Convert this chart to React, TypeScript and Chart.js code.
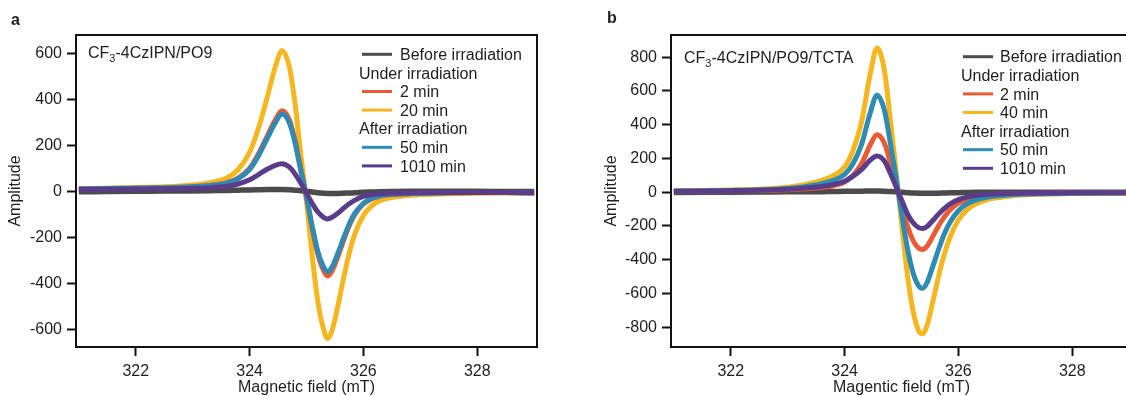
import React, { useEffect, useRef } from "react";
import { Chart, registerables } from "chart.js";

Chart.register(...registerables);

// ---------- data ----------
const FIELD_MT = [
  321.0, 321.5, 322.0, 322.5, 323.0, 323.3, 323.6, 323.8, 324.0, 324.15, 324.3, 324.45,
  324.57, 324.7, 324.8, 324.9, 325.0, 325.1, 325.2, 325.3, 325.37, 325.45, 325.55, 325.65,
  325.75, 325.85, 326.0, 326.15, 326.3, 326.5, 326.75, 327.0, 327.5, 328.0, 328.5, 329.0,
];

// Panel a: CF3-4CzIPN/PO9
const A_BEFORE = [-2, -1, 0, 1, 2, 3, 4, 5, 6, 7, 8, 8, 8, 7, 5, 3, 0, -3, -6, -8, -9, -9, -9, -8, -7, -6, -4, -3, -2, -1, 0, 0, 0, 0, -1, -1];
const A_2MIN = [10, 12, 14, 16, 20, 26, 38, 58, 100, 160, 235, 310, 350, 310, 220, 95, -25, -160, -275, -345, -368, -345, -285, -215, -150, -100, -55, -32, -20, -14, -10, -8, -6, -5, -5, -6];
const A_20MIN = [12, 14, 17, 20, 28, 38, 58, 95, 170, 270, 400, 540, 612, 540, 380, 160, -45, -280, -480, -600, -640, -605, -500, -380, -270, -185, -105, -62, -40, -27, -18, -14, -10, -8, -7, -8];
const A_50MIN = [10, 12, 14, 16, 20, 25, 36, 55, 95, 152, 225, 297, 336, 297, 210, 90, -24, -152, -262, -328, -350, -328, -270, -204, -142, -95, -52, -30, -19, -13, -10, -8, -6, -5, -5, -6];
const A_1010MIN = [8, 9, 10, 11, 13, 16, 22, 32, 50, 72, 95, 113, 120, 105, 75, 35, -8, -52, -90, -113, -120, -112, -95, -74, -54, -38, -22, -14, -10, -8, -7, -6, -5, -5, -5, -6];

// Panel b: CF3-4CzIPN/PO9/TCTA
const B_BEFORE = [-2, -1, 0, 1, 2, 2, 3, 4, 5, 6, 6, 7, 7, 6, 4, 2, -1, -3, -5, -6, -7, -7, -7, -6, -5, -4, -3, -2, -1, -1, 0, 0, 0, 0, -1, -1];
const B_2MIN = [5, 6, 8, 10, 15, 20, 28, 38, 60, 100, 170, 280, 340, 290, 180, 57, -72, -195, -285, -332, -340, -320, -262, -200, -148, -105, -65, -42, -28, -18, -12, -9, -6, -5, -4, -4];
const B_40MIN = [8, 10, 13, 18, 30, 45, 70, 98, 150, 250, 420, 700, 855, 720, 440, 140, -180, -480, -700, -820, -840, -790, -650, -500, -370, -270, -165, -105, -70, -45, -30, -20, -12, -8, -6, -6];
const B_50MIN = [6, 8, 10, 14, 22, 33, 50, 70, 105, 170, 285, 470, 575, 485, 300, 95, -120, -325, -475, -555, -570, -535, -440, -340, -250, -180, -110, -70, -47, -30, -20, -14, -9, -6, -5, -5];
const B_1010MIN = [5, 6, 8, 11, 17, 24, 34, 45, 65, 95, 135, 190, 215, 185, 115, 36, -45, -125, -180, -210, -215, -203, -168, -130, -97, -70, -44, -29, -20, -13, -9, -7, -5, -4, -4, -4];

const X_TICKS = [322, 324, 326, 328];
const A_Y_TICKS = [-600, -400, -200, 0, 200, 400, 600];
const B_Y_TICKS = [-800, -600, -400, -200, 0, 200, 400, 600, 800];

const A_LEGEND = ["Before irradiation", "Under irradiation", "2 min", "20 min", "After irradiation", "50 min", "1010 min"];
const B_LEGEND = ["Before irradiation", "Under irradiation", "2 min", "40 min", "After irradiation", "50 min", "1010 min"];

// ---------- styles ----------
const FONT = '"Liberation Sans", Arial, Helvetica, sans-serif';
const C_GRAY = "#4b4b4b";
const C_RED = "#ec5a34";
const C_YELLOW = "#f6b71e";
const C_BLUE = "#2e8bb3";
const C_PURPLE = "#5a3c8a";
const TEXT = "#1e1e1e";
const LEGEND_COLORS = [C_GRAY, null, C_RED, C_YELLOW, null, C_BLUE, C_PURPLE];

type PanelCfg = {
  letter: string;
  letterX: number;
  letterY: number;
  sampleRest: string;
  sampleX: number;
  sampleY: number;
  legend: string[];
  legendLineX: number;
  legendTextX: number;
  legendHeadX: number;
  legendY0: number;
  legendDy: number;
  series: number[][]; // before, under1, under2, after1, after2
  yMin: number;
  yMax: number;
  yTicks: number[];
  xTitle: string;
  yAxisWidth: number;
  padRight: number;
  yTitlePad: number;
  canvasLeft: number;
};

const PANELS: PanelCfg[] = [
  {
    letter: "a", letterX: 11, letterY: 25,
    sampleRest: "-4CzIPN/PO9", sampleX: 88, sampleY: 58,
    legend: A_LEGEND, legendLineX: 362, legendTextX: 400, legendHeadX: 359, legendY0: 54.3, legendDy: 18.6,
    series: [A_BEFORE, A_2MIN, A_20MIN, A_50MIN, A_1010MIN],
    yMin: -677, yMax: 680, yTicks: A_Y_TICKS,
    xTitle: "Magnetic field (mT)", yAxisWidth: 76, padRight: 23, yTitlePad: 8, canvasLeft: 0,
  },
  {
    letter: "b", letterX: 17, letterY: 23,
    sampleRest: "-4CzIPN/PO9/TCTA", sampleX: 94, sampleY: 63,
    legend: B_LEGEND, legendLineX: 373, legendTextX: 410, legendHeadX: 371, legendY0: 56.7, legendDy: 18.6,
    series: [B_BEFORE, B_2MIN, B_40MIN, B_50MIN, B_1010MIN],
    yMin: -918, yMax: 932, yTicks: B_Y_TICKS,
    xTitle: "Magentic field (mT)", yAxisWidth: 81, padRight: 18, yTitlePad: 14, canvasLeft: 590,
  },
];

function makePlugin(cfg: PanelCfg) {
  return {
    id: "panelDecor",
    afterDatasetsDraw(chart: any) {
      const { ctx, chartArea } = chart;
      const { left, top, right, bottom } = chartArea;
      ctx.save();
      ctx.lineWidth = 2;
      ctx.strokeStyle = "#111";
      ctx.strokeRect(left, top, right - left, bottom - top);
      ctx.restore();
    },
    afterDraw(chart: any) {
      const ctx = chart.ctx as CanvasRenderingContext2D;
      ctx.save();
      ctx.fillStyle = TEXT;
      ctx.textBaseline = "alphabetic";
      ctx.textAlign = "left";
      // panel letter
      ctx.font = `bold 16px ${FONT}`;
      ctx.fillText(cfg.letter, cfg.letterX, cfg.letterY);
      // sample label with subscript
      ctx.font = `16px ${FONT}`;
      let x = cfg.sampleX;
      ctx.fillText("CF", x, cfg.sampleY);
      x += ctx.measureText("CF").width;
      ctx.font = `11px ${FONT}`;
      ctx.fillText("3", x, cfg.sampleY + 4);
      x += ctx.measureText("3").width;
      ctx.font = `16px ${FONT}`;
      ctx.fillText(cfg.sampleRest, x, cfg.sampleY);
      // legend
      cfg.legend.forEach((label, i) => {
        const cy = cfg.legendY0 + i * cfg.legendDy;
        const col = LEGEND_COLORS[i];
        if (col) {
          ctx.strokeStyle = col;
          ctx.lineWidth = 3;
          ctx.beginPath();
          ctx.moveTo(cfg.legendLineX, cy);
          ctx.lineTo(cfg.legendLineX + 30, cy);
          ctx.stroke();
          ctx.fillText(label, cfg.legendTextX, cy + 5.7);
        } else {
          ctx.fillText(label, cfg.legendHeadX, cy + 5.7);
        }
      });
      ctx.restore();
    },
  };
}

function Panel({ cfg }: { cfg: PanelCfg }) {
  const ref = useRef<HTMLCanvasElement>(null);
  useEffect(() => {
    const [before, u1, u2, a1, a2] = cfg.series;
    const mk = (arr: number[], color: string, width: number) => ({
      data: FIELD_MT.map((x, i) => ({ x, y: arr[i] })),
      borderColor: color,
      backgroundColor: color,
      borderWidth: width,
      pointRadius: 0,
      cubicInterpolationMode: "monotone" as const,
      fill: false,
    });
    // dataset 0 is drawn on top
    const datasets = [
      mk(a2, C_PURPLE, 5),
      mk(a1, C_BLUE, 5),
      mk(u1, C_RED, 5),
      mk(u2, C_YELLOW, 5),
      mk(before, C_GRAY, 5.5),
    ];
    const tickFont = { family: FONT, size: 16 };
    const chart = new Chart(ref.current as HTMLCanvasElement, {
      type: "line",
      data: { datasets },
      options: {
        animation: false,
        responsive: false,
        devicePixelRatio: 1,
        events: [],
        layout: { padding: { left: 0, top: 35, right: cfg.padRight, bottom: 0 } },
        plugins: { legend: { display: false }, tooltip: { enabled: false } },
        scales: {
          x: {
            type: "linear",
            min: 320.95,
            max: 329.05,
            afterBuildTicks: (s: any) => {
              s.ticks = X_TICKS.map((v) => ({ value: v }));
            },
            afterFit: (s: any) => {
              s.height = 49;
            },
            grid: {
              display: true,
              drawOnChartArea: false,
              drawTicks: true,
              tickLength: 9,
              tickWidth: 2,
              tickColor: "#111",
              color: "#111",
            },
            border: { display: false },
            ticks: {
              font: tickFont,
              color: TEXT,
              padding: 6,
              maxRotation: 0,
              autoSkip: false,
              callback: (v: any) => String(v),
            },
            title: {
              display: true,
              text: cfg.xTitle,
              font: { family: FONT, size: 16, lineHeight: 1 },
              color: TEXT,
              padding: 0,
            },
          },
          y: {
            type: "linear",
            min: cfg.yMin,
            max: cfg.yMax,
            afterBuildTicks: (s: any) => {
              s.ticks = cfg.yTicks.map((v) => ({ value: v }));
            },
            afterFit: (s: any) => {
              s.width = cfg.yAxisWidth;
            },
            grid: {
              display: true,
              drawOnChartArea: false,
              drawTicks: true,
              tickLength: 9,
              tickWidth: 2,
              tickColor: "#111",
              color: "#111",
            },
            border: { display: false },
            ticks: {
              font: tickFont,
              color: TEXT,
              padding: 5,
              autoSkip: false,
              callback: (v: any) => String(v),
            },
            title: {
              display: true,
              text: "Amplitude",
              font: { family: FONT, size: 16, lineHeight: 1 },
              color: TEXT,
              padding: { top: cfg.yTitlePad, bottom: 0 },
            },
          },
        },
      } as any,
      plugins: [makePlugin(cfg)],
    });
    return () => chart.destroy();
  }, [cfg]);
  return (
    <canvas
      ref={ref}
      width={560}
      height={396}
      style={{ position: "absolute", left: cfg.canvasLeft, top: 0, width: 560, height: 396, display: "block" }}
    />
  );
}

export default function App() {
  return (
    <div
      style={{
        position: "absolute",
        left: 0,
        top: 0,
        width: 1126,
        height: 396,
        overflow: "hidden",
        background: "#ffffff",
      }}
    >
      {PANELS.map((p) => (
        <Panel key={p.letter} cfg={p} />
      ))}
    </div>
  );
}
